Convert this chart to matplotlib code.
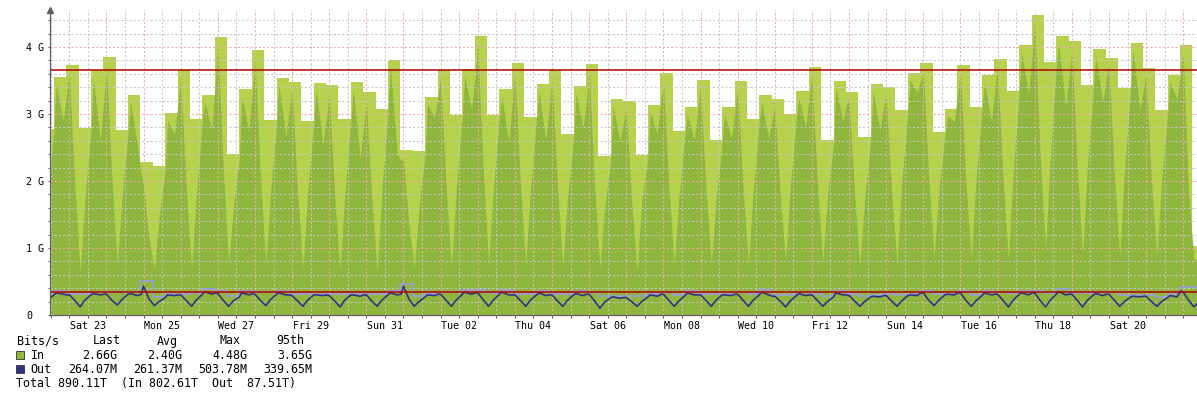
import numpy as np
import matplotlib
matplotlib.use("Agg")
import matplotlib.pyplot as plt
from matplotlib.patches import Rectangle

# ---------------- data ----------------
x_labels = ["Sat 23", "Mon 25", "Wed 27", "Fri 29", "Sun 31", "Tue 02", "Thu 04",
            "Sat 06", "Mon 08", "Wed 10", "Fri 12", "Sun 14", "Tue 16", "Thu 18", "Sat 20"]
y_tick_values = [0, 1, 2, 3, 4]
y_tick_labels = ["0", "1 G", "2 G", "3 G", "4 G"]

# 8-hour max blocks (Gbit/s); first block starts Fri 22 06:00 (-18 h from Sat 23 00:00)
block_hours = 8
first_block_start = -18
in_max = [
    2.78, 3.55, 3.73,   # Fri 22
    2.79, 3.65, 3.85,   # Sat 23
    2.76, 3.28, 2.28,   # Sun 24
    2.22, 3.01, 3.65,   # Mon 25
    2.93, 3.28, 4.15,   # Tue 26
    2.40, 3.37, 3.95,   # Wed 27
    2.91, 3.54, 3.48,   # Thu 28
    2.90, 3.46, 3.43,   # Fri 29
    2.93, 3.48, 3.33,   # Sat 30
    3.07, 3.80, 2.46,   # Sun 31
    2.45, 3.25, 3.65,   # Mon 01
    2.99, 3.67, 4.16,   # Tue 02
    2.99, 3.37, 3.76,   # Wed 03
    2.96, 3.45, 3.65,   # Thu 04
    2.70, 3.42, 3.75,   # Fri 05
    2.37, 3.22, 3.19,   # Sat 06
    2.39, 3.13, 3.61,   # Sun 07
    2.75, 3.10, 3.51,   # Mon 08
    2.61, 3.10, 3.49,   # Tue 09
    2.93, 3.28, 3.22,   # Wed 10
    3.00, 3.34, 3.70,   # Thu 11
    2.61, 3.49, 3.33,   # Fri 12
    2.66, 3.45, 3.40,   # Sat 13
    3.06, 3.61, 3.76,   # Sun 14
    2.73, 3.07, 3.73,   # Mon 15
    3.10, 3.58, 3.82,   # Tue 16
    3.35, 4.03, 4.48,   # Wed 17
    3.78, 4.16, 4.09,   # Thu 18
    3.43, 3.97, 3.84,   # Fri 19
    3.39, 4.06, 3.69,   # Sat 20
    3.06, 3.58, 4.03,   # Sun 21
    1.03,               # Mon 22
]
out_max = [
    0.338, 0.358, 0.315,
    0.315, 0.338, 0.338,
    0.338, 0.338, 0.503,
    0.270, 0.318, 0.318,
    0.330, 0.383, 0.363,
    0.285, 0.363, 0.348,
    0.348, 0.358, 0.318,
    0.318, 0.318, 0.318,
    0.318, 0.318, 0.318,
    0.318, 0.363, 0.458,
    0.279, 0.318, 0.348,
    0.348, 0.368, 0.368,
    0.328, 0.368, 0.318,
    0.318, 0.358, 0.318,
    0.318, 0.353, 0.338,
    0.279, 0.279, 0.279,
    0.279, 0.318, 0.338,
    0.299, 0.358, 0.318,
    0.318, 0.318, 0.338,
    0.318, 0.368, 0.299,
    0.299, 0.348, 0.318,
    0.279, 0.358, 0.318,
    0.279, 0.299, 0.308,
    0.299, 0.318, 0.358,
    0.318, 0.330, 0.363,
    0.300, 0.363, 0.338,
    0.330, 0.363, 0.363,
    0.333, 0.383, 0.333,
    0.333, 0.343, 0.343,
    0.294, 0.294, 0.294,
    0.274, 0.313, 0.413,
    0.413,
]

# average samples, hours within each day; first row is Fri 22
avg_day_hours = [0, 3.5, 7, 10, 14, 15.5, 20, 22.5]
first_avg_day = -1
in_avg = [
    3.40, 1.90, 0.70, 1.75, 2.73, 3.45, 2.90, 3.35,   # Fri 22
    3.62, 1.98, 0.64, 1.70, 2.74, 3.55, 2.60, 3.25,   # Sat 23
    3.75, 2.05, 0.74, 1.75, 2.71, 3.18, 2.55, 2.10,   # Sun 24
    1.95, 1.15, 0.67, 1.45, 2.17, 2.91, 2.70, 3.20,   # Mon 25
    3.55, 1.95, 0.69, 1.75, 2.88, 3.18, 2.76, 3.50,   # Tue 26
    4.05, 2.20, 0.77, 1.60, 2.35, 3.27, 2.75, 3.35,   # Wed 27
    3.85, 2.10, 0.75, 1.80, 2.86, 3.44, 2.66, 3.10,   # Thu 28
    3.38, 1.85, 0.70, 1.80, 2.85, 3.36, 2.54, 3.00,   # Fri 29
    3.33, 1.80, 0.66, 1.80, 2.88, 3.38, 2.34, 2.85,   # Sat 30
    3.23, 1.75, 0.64, 1.85, 3.02, 3.72, 2.40, 2.30,   # Sun 31
    2.35, 1.35, 0.70, 1.60, 2.40, 3.15, 2.95, 3.30,   # Mon 01
    3.55, 1.95, 0.72, 1.85, 2.94, 3.57, 3.08, 3.60,   # Tue 02
    4.06, 2.20, 0.77, 1.85, 2.94, 3.27, 2.59, 3.20,   # Wed 03
    3.66, 2.00, 0.75, 1.85, 2.91, 3.35, 2.61, 3.15,   # Thu 04
    3.55, 1.95, 0.72, 1.75, 2.65, 3.32, 2.79, 3.25,   # Fri 05
    3.65, 1.95, 0.70, 1.60, 2.32, 3.12, 2.59, 2.90,   # Sat 06
    3.09, 1.70, 0.65, 1.72, 2.34, 3.03, 2.71, 3.20,   # Sun 07
    3.51, 1.95, 0.75, 1.75, 2.70, 3.00, 2.61, 3.10,   # Mon 08
    3.41, 1.90, 0.76, 1.70, 2.56, 3.00, 2.64, 3.10,   # Tue 09
    3.39, 1.90, 0.75, 1.85, 2.88, 3.18, 2.64, 2.95,   # Wed 10
    3.12, 1.80, 0.80, 1.90, 2.95, 3.24, 2.81, 3.30,   # Thu 11
    3.60, 2.00, 0.79, 1.75, 2.56, 3.39, 2.89, 3.15,   # Fri 12
    3.23, 1.85, 0.72, 1.70, 2.61, 3.35, 2.76, 3.10,   # Sat 13
    3.30, 1.85, 0.77, 1.95, 3.01, 3.51, 3.33, 3.50,   # Sun 14
    3.66, 2.05, 0.88, 1.85, 2.68, 2.97, 2.89, 3.35,   # Mon 15
    3.63, 2.00, 0.84, 2.00, 3.05, 3.48, 2.89, 3.40,   # Tue 16
    3.72, 2.05, 0.82, 2.10, 3.30, 3.93, 3.30, 3.90,   # Wed 17
    4.38, 2.40, 0.99, 2.30, 3.73, 4.06, 3.11, 3.60,   # Thu 18
    3.99, 2.20, 0.90, 2.20, 3.38, 3.87, 3.18, 3.55,   # Fri 19
    3.74, 2.10, 0.87, 2.15, 3.34, 3.96, 3.06, 3.40,   # Sat 20
    3.59, 2.00, 0.87, 2.00, 3.01, 3.48, 3.21, 3.65,   # Sun 21
    3.93, 1.80, 0.82, 0.85,                           # Mon 22
]
out_avg = [
    0.30, 0.22, 0.13, 0.22, 0.30, 0.33, 0.31, 0.30,
    0.30, 0.22, 0.12, 0.22, 0.30, 0.32, 0.30, 0.31,
    0.31, 0.22, 0.15, 0.23, 0.31, 0.32, 0.29, 0.31,
    0.43, 0.24, 0.14, 0.20, 0.26, 0.30, 0.29, 0.30,
    0.30, 0.22, 0.13, 0.22, 0.31, 0.35, 0.31, 0.33,
    0.32, 0.22, 0.13, 0.21, 0.27, 0.33, 0.30, 0.32,
    0.31, 0.22, 0.14, 0.23, 0.31, 0.33, 0.30, 0.30,
    0.29, 0.21, 0.13, 0.22, 0.30, 0.30, 0.29, 0.30,
    0.29, 0.21, 0.12, 0.22, 0.30, 0.30, 0.28, 0.30,
    0.30, 0.21, 0.13, 0.22, 0.30, 0.33, 0.30, 0.31,
    0.43, 0.24, 0.13, 0.20, 0.27, 0.30, 0.29, 0.31,
    0.31, 0.22, 0.13, 0.22, 0.31, 0.34, 0.31, 0.33,
    0.33, 0.23, 0.13, 0.22, 0.31, 0.34, 0.30, 0.30,
    0.30, 0.22, 0.13, 0.22, 0.30, 0.33, 0.29, 0.30,
    0.30, 0.21, 0.13, 0.22, 0.30, 0.32, 0.29, 0.31,
    0.31, 0.21, 0.10, 0.19, 0.26, 0.27, 0.25, 0.26,
    0.26, 0.20, 0.13, 0.20, 0.27, 0.30, 0.28, 0.31,
    0.31, 0.22, 0.13, 0.21, 0.29, 0.33, 0.30, 0.30,
    0.30, 0.22, 0.13, 0.22, 0.30, 0.30, 0.29, 0.31,
    0.31, 0.22, 0.13, 0.22, 0.30, 0.34, 0.30, 0.28,
    0.28, 0.21, 0.12, 0.21, 0.29, 0.32, 0.29, 0.30,
    0.30, 0.22, 0.13, 0.20, 0.27, 0.33, 0.30, 0.30,
    0.29, 0.21, 0.13, 0.20, 0.27, 0.28, 0.27, 0.29,
    0.29, 0.21, 0.13, 0.21, 0.29, 0.30, 0.29, 0.33,
    0.33, 0.22, 0.14, 0.22, 0.30, 0.31, 0.30, 0.33,
    0.33, 0.22, 0.13, 0.21, 0.29, 0.33, 0.30, 0.31,
    0.31, 0.22, 0.12, 0.22, 0.31, 0.33, 0.30, 0.33,
    0.33, 0.22, 0.12, 0.22, 0.31, 0.35, 0.30, 0.31,
    0.31, 0.22, 0.12, 0.22, 0.30, 0.32, 0.29, 0.31,
    0.31, 0.22, 0.13, 0.20, 0.27, 0.28, 0.27, 0.28,
    0.28, 0.20, 0.13, 0.20, 0.26, 0.29, 0.27, 0.36,
    0.34, 0.22, 0.12, 0.20,
]

in_95th = 3.65
out_95th = 0.33965

legend_header = ["Bits/s", "Last", "Avg", "Max", "95th"]
legend_in = ["In", "2.66G", "2.40G", "4.48G", "3.65G"]
legend_out = ["Out", "264.07M", "261.37M", "503.78M", "339.65M"]
legend_total = "Total 890.11T  (In 802.61T  Out  87.51T)"

# ---------------- styling ----------------
W, H = 1197, 395
LIGHT = "#b6d24c"
DARK = "#8fb63e"
OUT_MAX_C = "#9c9ce8"
OUT_AVG_C = "#32337f"
RED = "#b30000"
PINK = "#f2a9a9"
GRAY = "#c6c6c6"
AXC = "#606060"
MONO = "DejaVu Sans Mono"

fig = plt.figure(figsize=(W / 100, H / 100), dpi=100)
fig.patch.set_facecolor("white")

ax_left, ax_right, ax_bottom, ax_top = 50, 1197, 315, 10
ax = fig.add_axes([ax_left / W, (H - ax_bottom) / H,
                   (ax_right - ax_left) / W, (ax_bottom - ax_top) / H])
px_per_g = 67.0
px_per_day = 37.13
midnight_px = 69.3
x0 = -(midnight_px - ax_left) / px_per_day * 24
x1 = (ax_right - midnight_px) / px_per_day * 24
ax.set_xlim(x0, x1)
ax.set_ylim(0, (ax_bottom - ax_top) / px_per_g)

# In max (8 h blocks)
edges = first_block_start + block_hours * np.arange(len(in_max) + 1)
ax.stairs(in_max, edges, fill=True, color=LIGHT, baseline=0, zorder=1, lw=0)

# In average
t_avg = np.array([(first_avg_day + i // len(avg_day_hours)) * 24 + avg_day_hours[i % len(avg_day_hours)]
                  for i in range(len(in_avg))])
ax.fill_between(t_avg, in_avg, 0, color=DARK, lw=0, zorder=2)

# grid (drawn over the areas)
dots = (0, (2, 2))
for d in range(-1, 32):
    for h, c in ((0, PINK), (12, GRAY)):
        xv = d * 24 + h
        if x0 < xv < x1:
            ax.axvline(xv, color=c, lw=0.75, ls=dots, zorder=3)
for k in range(1, 23):
    yv = k * 0.2
    c = PINK if k % 5 == 0 else GRAY
    ax.axhline(yv, color=c, lw=0.75, ls=dots, zorder=3)

# Out
ax.stairs(out_max, edges, color=OUT_MAX_C, lw=1.1, zorder=4, baseline=None)
ax.plot(t_avg[:len(out_avg)], out_avg, color=OUT_AVG_C, lw=1.2, zorder=5)

# 95th percentile lines
ax.axhline(in_95th, color=RED, lw=1.1, zorder=6)
ax.axhline(out_95th, color=RED, lw=1.1, zorder=6)

# axes
for s in ("top", "right"):
    ax.spines[s].set_visible(False)
for s in ("left", "bottom"):
    ax.spines[s].set_color(AXC)
    ax.spines[s].set_linewidth(0.9)
    ax.spines[s].set_zorder(7)
ax.plot([0], [1.0], marker="^", ms=4.5, color=AXC, transform=ax.transAxes,
        clip_on=False, zorder=8)

label_pos = [48 * k + 12 for k in range(len(x_labels))]
ax.set_xticks(label_pos)
ax.set_xticklabels(x_labels, fontfamily=MONO, fontsize=7.2)
ax.set_xticks(np.arange(-12, x1, 12), minor=True)
ax.tick_params(axis="x", which="both", direction="out", length=2.4, width=0.7,
               color=AXC, pad=1.6)

ax.set_yticks(y_tick_values)
ax.set_yticklabels(y_tick_labels, fontfamily=MONO, fontsize=7.2)
ax.set_yticks(np.arange(0, 4.5, 0.2), minor=True)
ax.tick_params(axis="y", which="both", direction="out", length=1.6, width=0.7,
               color=AXC)
ax.tick_params(axis="y", which="major", pad=15.4)
for lbl in ax.get_yticklabels():
    lbl.set_horizontalalignment("left")

# ---------------- legend ----------------
def ftxt(x, y, s, ha="left", size=8.4):
    fig.text(x / W, 1 - y / H, s, ha=ha, va="center", fontfamily=MONO,
             fontsize=size, color="black")

ftxt(16.5, 341, legend_header[0])
for x, s in zip((93, 157, 220, 276), legend_header[1:]):
    ftxt(x, 341, s)

ftxt(30.5, 355.7, legend_in[0])
ftxt(30.5, 369.3, legend_out[0])
for x, s_in, s_out in zip((117.5, 182.5, 247.5, 312.5), legend_in[1:], legend_out[1:]):
    ftxt(x, 355.7, s_in, ha="right")
    ftxt(x, 369.3, s_out, ha="right")
ftxt(16.5, 383.3, legend_total)

for yc, col in ((354.5, DARK), (368.8, "#2e3282")):
    fig.patches.append(Rectangle(((15.5) / W, 1 - (yc + 4) / H), 8 / W, 8 / H,
                                 transform=fig.transFigure, facecolor=col,
                                 edgecolor="#333333", lw=0.6))

fig.savefig("out.png", dpi=100, facecolor="white")
